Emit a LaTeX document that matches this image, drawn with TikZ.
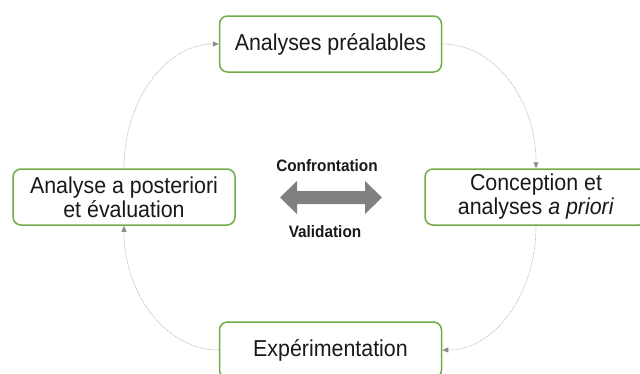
\documentclass[tikz,border=0pt]{standalone}
\usepackage{fontspec}
\setmainfont[FakeStretch=0.93]{Liberation Sans}
\usetikzlibrary{arrows.meta}
\definecolor{boxgreen}{HTML}{70AD47}
\definecolor{conngray}{HTML}{BFBFBF}
\definecolor{tipgray}{HTML}{8C8C8C}
\definecolor{bigarrow}{HTML}{808080}
\begin{document}
\begin{tikzpicture}[x=1pt,y=-1pt,
  stagebox/.style={draw=boxgreen, line width=1.5pt, rounded corners=8pt, fill=white,
    minimum width=222pt, minimum height=56pt, align=center, inner sep=0pt,
    font=\fontsize{23}{24}\selectfont, text=black!90},
  conn/.style={draw=conngray, line width=0.7pt, dash pattern=on 1.5pt off 1pt,
    -{Triangle[length=6pt,width=5pt,color=tipgray,fill=tipgray]}},
  midlabel/.style={font=\bfseries\fontsize{16.5}{18}\selectfont, text=black!90, inner sep=0pt}]
\useasboundingbox (0,0) rectangle (640,373);
\clip (0,0) rectangle (640,373);
\node[stagebox] (T) at (330.5,44) {Analyses préalables};
\node[stagebox] (L) at (124,197) {Analyse a posteriori\\et évaluation};
\node[stagebox] (R) at (536,197) {Conception et\\analyses \textit{a priori}};
\node[stagebox] (B) at (330.5,350) {Expérimentation};
\draw[conn] (L.north) .. controls +(0,-69) and +(-52,0) .. (T.west);
\draw[conn] (T.east) .. controls +(52,0) and +(0,-69) .. (R.north);
\draw[conn] (R.south) .. controls +(0,69) and +(52,0) .. (B.east);
\draw[conn] (B.west) .. controls +(-52,0) and +(0,69) .. (L.south);
\node[midlabel] (C) at (327,166) {Confrontation};
\node[midlabel] (V) at (325,232) {Validation};
\coordinate (AL) at (280,197.5);
\coordinate (AR) at (382,197.5);
\fill[bigarrow] (AL) -- (297,181) -- (297,191) -- (365,191) -- (365,181) -- (AR)
  -- (365,214) -- (365,204) -- (297,204) -- (297,214) -- cycle;
\end{tikzpicture}
\end{document}
